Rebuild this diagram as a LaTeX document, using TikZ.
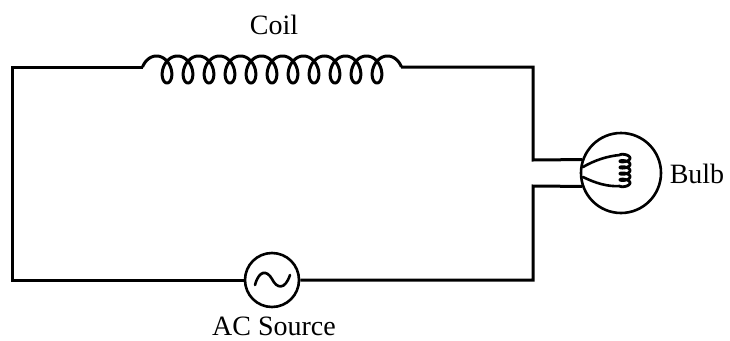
\documentclass[tikz,border=0pt]{standalone}
\usepackage{fontspec}
\setmainfont{Liberation Serif}
\begin{document}
\begin{tikzpicture}[x=1pt,y=-1pt,
  wire/.style={line width=3pt, line join=miter},
  part/.style={draw, circle, line width=2.6pt, inner sep=0pt},
  thin/.style={line width=2.6pt, line cap=round},
  lbl/.style={font=\fontsize{28}{32}\selectfont, inner sep=0pt, anchor=base}]
\useasboundingbox (0,0) rectangle (730,340);
\coordinate (tl) at (12,67);
\coordinate (tr) at (533,67);
\coordinate (bl) at (12,280);
\coordinate (br) at (533,280);
\coordinate (coilL) at (143,67);
\coordinate (coilR) at (401,67);
\coordinate (bt) at (533,160);
\coordinate (bb) at (533,186);
\node[part, minimum size=80pt] (bulb) at (621,173) {};
\node[part, minimum size=54pt] (ac) at (272,280) {};
% wires
\draw[wire] (coilL) -- (tl) -- (bl) -- (ac);
\draw[wire] (ac) -- (br) -- (bb) -- (bulb.199);
\draw[wire] (coilR) -- (tr) -- (bt) -- (bulb.161);
% coil
\draw[line width=3pt] plot[domain=-4.526:67.358, samples=900]
  ({167+3.342*\x - 9.5*sin(\x r)}, {69.5+13.5*cos(\x r)});
% AC symbol
\draw[thin] (255,285) .. controls (259,270) and (267,270) .. (272,279)
  .. controls (277,289) and (285,290) .. (290,275);
% filament
\draw[thin] (583,167) .. controls (595,160) and (608,156) .. (620,155);
\draw[thin] (583,177) .. controls (595,183) and (608,187) .. (620,186);
\draw[line width=2.8pt] plot[domain=0:31.416, samples=300]
  ({625-5*cos(\x r)}, {155+0.987*\x - 2*sin(\x r)});
% labels
\node[lbl] (coiltxt) at (274,34) {Coil};
\node[lbl] (actxt) at (274,335) {AC Source};
\node[lbl] (bulbtxt) at (697,183) {Bulb};
\end{tikzpicture}
\end{document}
